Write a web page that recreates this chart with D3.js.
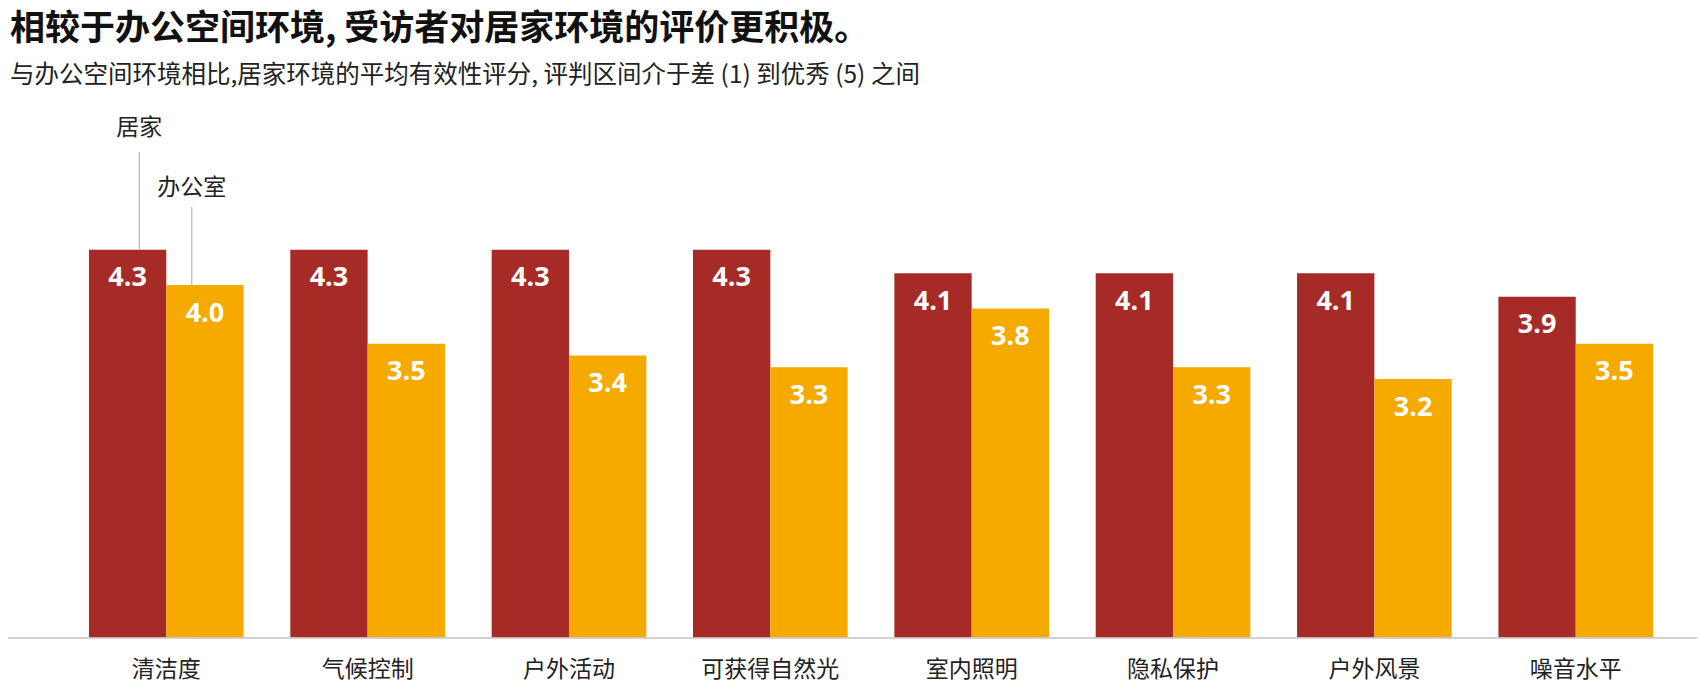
<!DOCTYPE html>
<html>
<head>
<meta charset="utf-8">
<script src="https://cdn.jsdelivr.net/npm/d3@7"></script>
<style>
  html, body { margin: 0; padding: 0; background: #fff; }
  svg { display: block; font-family: "Noto Sans CJK SC", "Noto Sans", sans-serif; }
</style>
</head>
<body>
<script>
// Data
const categories = ["清洁度", "气候控制", "户外活动", "可获得自然光", "室内照明", "隐私保护", "户外风景", "噪音水平"];
const series = ["居家", "办公室"];
const home = [4.3, 4.3, 4.3, 4.3, 4.1, 4.1, 4.1, 3.9];
const office = [4.0, 3.5, 3.4, 3.3, 3.8, 3.3, 3.2, 3.5];
const colors = ["#a62a25", "#f6aa00"];

const title = "相较于办公空间环境, 受访者对居家环境的评价更积极。";
const subtitle = "与办公空间环境相比,居家环境的平均有效性评分, 评判区间介于差 (1) 到优秀 (5) 之间";

const w = 1700;
const h = 687;

const rows = categories.map((c, i) => ({ cat: c, values: [home[i], office[i]] }));

const svg = d3.select("body")
  .append("svg")
  .attr("width", w)
  .attr("height", h)
  .attr("viewBox", [0, 0, w, h]);

// Scales
const x0 = d3.scaleBand()
  .domain(categories)
  .range([65.6, 1676.4])
  .paddingInner(0.232)
  .paddingOuter(0.116);
const x1 = d3.scaleBand()
  .domain(series)
  .range([0, x0.bandwidth()]);
const y = d3.scaleLinear()
  .domain([1, 5])
  .range([637.5, 167.5]);

// Title + subtitle
svg.append("text")
  .attr("x", 10)
  .attr("y", 24)
  .attr("dominant-baseline", "central")
  .attr("font-size", 35)
  .attr("font-weight", 700)
  .attr("fill", "#111")
  .text(title);
svg.append("text")
  .attr("x", 10)
  .attr("y", 72)
  .attr("dominant-baseline", "central")
  .attr("font-size", 24.5)
  .attr("fill", "#222")
  .text(subtitle);

// Bars
const groups = svg.append("g")
  .selectAll("g")
  .data(rows)
  .join("g")
  .attr("transform", (d) => `translate(${x0(d.cat)},0)`);

groups.selectAll("rect")
  .data((d) => d.values.map((v, j) => ({ key: series[j], v, j })))
  .join("rect")
  .attr("x", (d) => x1(d.key))
  .attr("y", (d) => y(d.v))
  .attr("width", x1.bandwidth())
  .attr("height", (d) => y(1) - y(d.v))
  .attr("fill", (d) => colors[d.j]);

groups.selectAll("text.val")
  .data((d) => d.values.map((v, j) => ({ key: series[j], v, j })))
  .join("text")
  .attr("class", "val")
  .attr("x", (d) => x1(d.key) + x1.bandwidth() / 2)
  .attr("y", (d) => y(d.v) + 26)
  .attr("text-anchor", "middle")
  .attr("dominant-baseline", "central")
  .attr("font-family", "'Open Sans', 'Noto Sans', sans-serif")
  .attr("font-size", 27)
  .attr("font-weight", 700)
  .attr("fill", "#fff")
  .text((d) => d3.format(".1f")(d.v));

// Baseline + category axis
const x_axis = svg.append("g")
  .attr("transform", `translate(0,${y(1)})`)
  .call(d3.axisBottom(x0).tickSize(0).tickPadding(0));
x_axis.select("path.domain").remove();
x_axis.selectAll("text")
  .attr("y", 29)
  .attr("dy", null)
  .attr("dominant-baseline", "central")
  .attr("font-family", "'Noto Sans CJK SC', sans-serif")
  .attr("font-size", 23)
  .attr("fill", "#222");
svg.append("line")
  .attr("x1", 8)
  .attr("x2", 1697)
  .attr("y1", y(1) + 0.5)
  .attr("y2", y(1) + 0.5)
  .attr("stroke", "#c4c4c4")
  .attr("stroke-width", 1.5);

// Series callouts on the first group
const first = categories[0];
const callouts = [
  { key: "居家", frac: 0.65, labelY: 125, lineTop: 152 },
  { key: "办公室", frac: 0.33, labelY: 184.5, lineTop: 207 }
];
callouts.forEach((c, j) => {
  const cx = x0(first) + x1(c.key) + x1.bandwidth() * c.frac;
  svg.append("line")
    .attr("x1", cx).attr("x2", cx)
    .attr("y1", c.lineTop)
    .attr("y2", y(rows[0].values[j]))
    .attr("stroke", "#aaa")
    .attr("stroke-width", 1);
  svg.append("text")
    .attr("x", cx)
    .attr("y", c.labelY)
    .attr("text-anchor", "middle")
    .attr("dominant-baseline", "central")
    .attr("font-size", 23)
    .attr("fill", "#222")
    .text(c.key);
});
</script>
</body>
</html>
